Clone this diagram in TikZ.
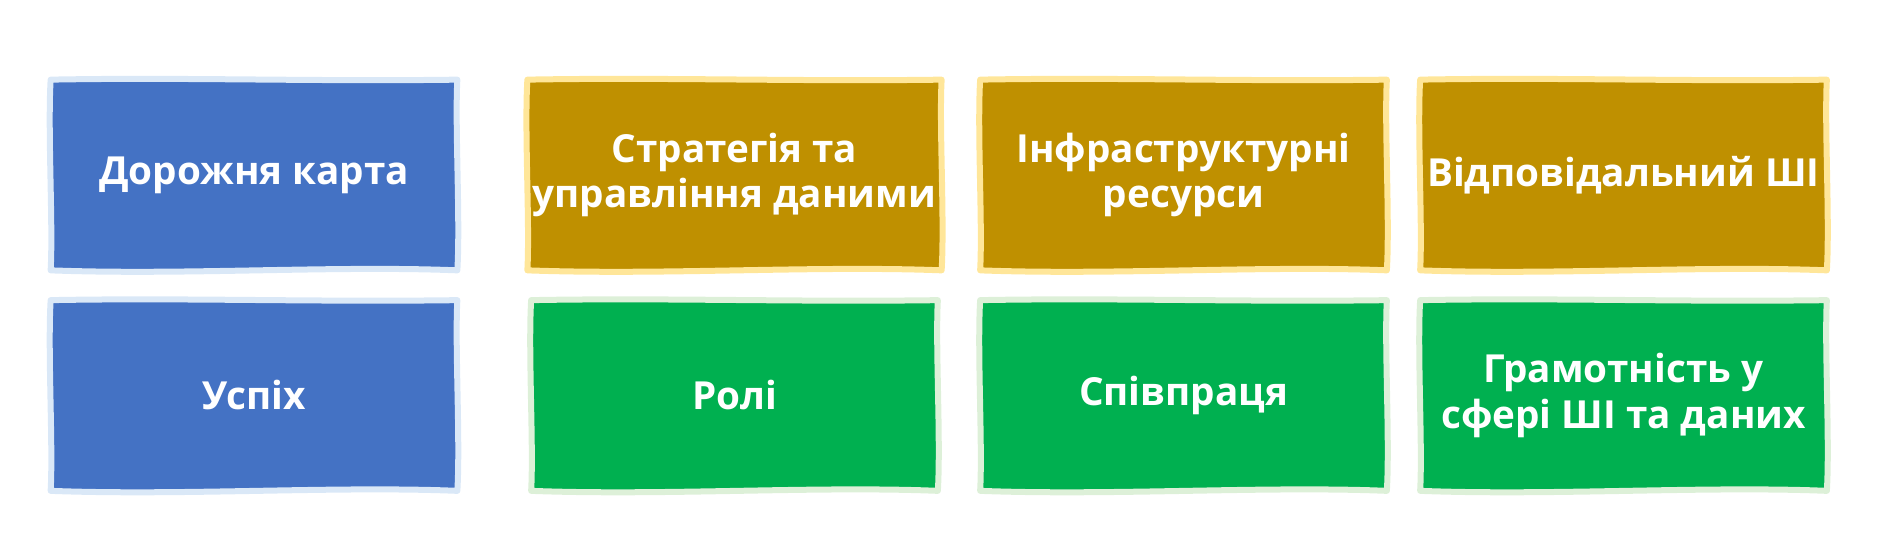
\documentclass[tikz,border=0pt]{standalone}
\usepackage{fontspec}
\setmainfont{Open Sans}
\usepackage{xcolor}
\usepackage{tikz}
\usetikzlibrary{calc}

\definecolor{r68g114b196}{RGB}{68,114,196}%
\definecolor{r218g232b247}{RGB}{218,232,247}%
\definecolor{r191g144b0}{RGB}{191,144,0}%
\definecolor{r255g230b153}{RGB}{255,230,153}%
\definecolor{r0g176b80}{RGB}{0,176,80}%
\definecolor{r221g240b216}{RGB}{221,240,216}%

\pgfdeclarelayer{background}
\pgfsetlayers{background,main}

\tikzset{
  tile/.style={rectangle, minimum width=8.120000cm, minimum height=3.800000cm,
    text=white, align=center, inner sep=0.1cm,
    font=\fontsize{22}{26}\selectfont\bfseries},
  tileline/.style={line width=0.120000cm, line join=round},
  bluetile/.style={tileline, fill=r68g114b196, draw=r218g232b247},
  goldtile/.style={tileline, fill=r191g144b0, draw=r255g230b153},
  greentile/.style={tileline, fill=r0g176b80, draw=r221g240b216}
}

% wavy outline behind a named node
\newcommand{\wavytile}[2]{%
  \begin{pgfonlayer}{background}
  \draw [#2] (#1.north west)
    .. controls ($(#1.north)+(-1.4,0.05)$) and ($(#1.north)+(1.2,-0.04)$) .. (#1.north east)
    .. controls ($(#1.east)+(-0.05,1.0)$) and ($(#1.east)+(0.06,-0.9)$) .. (#1.south east)
    .. controls ($(#1.south)+(1.6,0.10)$) and ($(#1.south)+(-1.4,-0.10)$) .. (#1.south west)
    .. controls ($(#1.west)+(0.05,-1.0)$) and ($(#1.west)+(-0.06,0.9)$) .. (#1.north west) -- cycle;%
  \end{pgfonlayer}}

\begin{document}
\begin{tikzpicture}
                    \useasboundingbox (0.000000,0.000000) rectangle (37.980000,11.200000);%

                    % Upper row of boxes
                    \node [tile] (roadmap) at (5.080000,7.700000) {Дорожня карта};%
                    \node [tile] (strategy) at (14.690000,7.700000) {Стратегія та\\управління даними};%
                    \node [tile] (infra) at (23.670000,7.700000) {Інфраструктурні\\ресурси};%
                    \node [tile] (responsible) at (32.470000,7.700000) {Відповідальний ШІ};%

                    % Lower row of boxes
                    \node [tile] (success) at (5.080000,3.290000) {Успіх};%
                    \node [tile] (roles) at (14.690000,3.290000) {Ролі};%
                    \node [tile] (collab) at (23.670000,3.290000) {Співпраця};%
                    \node [tile] (literacy) at (32.470000,3.290000) {Грамотність у\\сфері ШІ та даних};%

                    % Filling the boxes
                    \wavytile{roadmap}{bluetile}%
                    \wavytile{strategy}{goldtile}%
                    \wavytile{infra}{goldtile}%
                    \wavytile{responsible}{goldtile}%
                    \wavytile{success}{bluetile}%
                    \wavytile{roles}{greentile}%
                    \wavytile{collab}{greentile}%
                    \wavytile{literacy}{greentile}%
\end{tikzpicture}
\end{document}
